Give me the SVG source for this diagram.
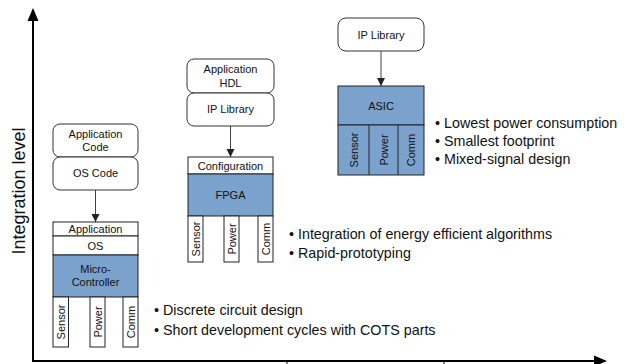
<svg xmlns="http://www.w3.org/2000/svg" width="624" height="364" viewBox="0 0 624 364">
<defs>
<marker id="ah" viewBox="0 0 10 10" refX="10" refY="5" markerWidth="8" markerHeight="9" markerUnits="userSpaceOnUse" orient="auto">
<path d="M0,0 L10,5 L0,10 Z" fill="#222"/>
</marker>
</defs>
<style>
text{font-family:"Liberation Sans",Arial,sans-serif;fill:#111}
.lbl{font-size:11px;text-anchor:middle}
.pin{font-size:11px;text-anchor:middle}
.bul{font-size:14.3px}
.ax{font-size:18px;text-anchor:middle}
.rb{fill:#fff;stroke:#333;stroke-width:1}
.wb{fill:#fff;stroke:#222;stroke-width:1}
.bb{fill:#7BA2CD;stroke:#222;stroke-width:1}
.con{stroke:#444;stroke-width:1;fill:none}
.axis{stroke:#000;stroke-width:2;fill:none}
</style>
<rect width="624" height="364" fill="#fff"/>

<g id="axes">
<line class="axis" x1="33" y1="361" x2="33" y2="20"/>
<polygon points="33,8 27.5,21 38.5,21" fill="#000"/>
<line class="axis" x1="32" y1="361" x2="595" y2="361"/>
<polygon points="607,361 594,355.5 594,366.5" fill="#000"/>
<line x1="287" y1="361" x2="287" y2="364" stroke="#000" stroke-width="1"/>
<line x1="444" y1="361" x2="444" y2="364" stroke="#000" stroke-width="1"/>
<text class="ax" transform="translate(25,191) rotate(-90)">Integration level</text>
</g>

<g id="connectors">
<line class="con" x1="95.5" y1="190" x2="95.5" y2="222" marker-end="url(#ah)"/>
<line class="con" x1="230.5" y1="126" x2="230.5" y2="157" marker-end="url(#ah)"/>
<line class="con" x1="381" y1="51" x2="381" y2="86" marker-end="url(#ah)"/>
</g>

<g id="app-code">
<rect class="rb" x="53" y="124" width="85" height="33" rx="7"/>
<text class="lbl" x="95.5" y="138">Application</text>
<text class="lbl" x="95.5" y="151">Code</text>
</g>
<g id="os-code">
<rect class="rb" x="53" y="157" width="85" height="33" rx="7"/>
<text class="lbl" x="95.5" y="177">OS Code</text>
</g>

<g id="microcontroller">
<rect class="wb" x="53" y="222" width="85" height="14"/>
<text class="lbl" x="95.5" y="233">Application</text>
<rect class="wb" x="53" y="236" width="85" height="19"/>
<text class="lbl" x="95.5" y="249.5">OS</text>
<rect class="bb" x="53" y="255" width="85" height="42"/>
<text class="lbl" x="95.5" y="273">Micro-</text>
<text class="lbl" x="95.5" y="286">Controller</text>
<rect class="wb" x="53" y="297" width="15.5" height="50"/>
<rect class="wb" x="90" y="297" width="15" height="50"/>
<rect class="wb" x="123" y="297" width="15" height="50"/>
<text class="pin" transform="translate(64.7,322) rotate(-90)">Sensor</text>
<text class="pin" transform="translate(101.5,322) rotate(-90)">Power</text>
<text class="pin" transform="translate(134.5,322) rotate(-90)">Comm</text>
</g>

<g id="app-hdl">
<rect class="rb" x="187" y="59" width="87" height="34" rx="7"/>
<text class="lbl" x="230.5" y="73">Application</text>
<text class="lbl" x="230.5" y="87">HDL</text>
</g>
<g id="ip-library-fpga">
<rect class="rb" x="187" y="93" width="87" height="33" rx="7"/>
<text class="lbl" x="230.5" y="113">IP Library</text>
</g>

<g id="fpga">
<rect class="wb" x="188" y="157" width="85" height="17"/>
<text class="lbl" x="230.5" y="169.5">Configuration</text>
<rect class="bb" x="188" y="174" width="85" height="42"/>
<text class="lbl" x="230.5" y="199">FPGA</text>
<rect class="wb" x="188" y="216" width="15" height="46"/>
<rect class="wb" x="224" y="216" width="15" height="46"/>
<rect class="wb" x="258" y="216" width="15" height="46"/>
<text class="pin" transform="translate(199.5,239) rotate(-90)">Sensor</text>
<text class="pin" transform="translate(235.5,239) rotate(-90)">Power</text>
<text class="pin" transform="translate(269.5,239) rotate(-90)">Comm</text>
</g>

<g id="ip-library-asic">
<rect class="rb" x="338" y="18" width="86" height="33" rx="8"/>
<text class="lbl" x="381" y="39">IP Library</text>
</g>

<g id="asic">
<rect class="bb" x="338" y="86" width="86" height="39"/>
<text class="lbl" x="381" y="110">ASIC</text>
<rect class="bb" x="338" y="125" width="86" height="50"/>
<line x1="369" y1="125" x2="369" y2="175" stroke="#222" stroke-width="1"/>
<line x1="398" y1="125" x2="398" y2="175" stroke="#222" stroke-width="1"/>
<text class="pin" transform="translate(357.5,150) rotate(-90)">Sensor</text>
<text class="pin" transform="translate(387.5,150) rotate(-90)">Power</text>
<text class="pin" transform="translate(415,150) rotate(-90)">Comm</text>
</g>

<g id="notes">
<text class="bul" x="154" y="315">• Discrete circuit design</text>
<text class="bul" x="154" y="335">• Short development cycles with COTS parts</text>
<text class="bul" x="289" y="239">• Integration of energy efficient algorithms</text>
<text class="bul" x="289" y="258">• Rapid-prototyping</text>
<text class="bul" x="435" y="128">• Lowest power consumption</text>
<text class="bul" x="435" y="146">• Smallest footprint</text>
<text class="bul" x="435" y="164">• Mixed-signal design</text>
</g>
</svg>
